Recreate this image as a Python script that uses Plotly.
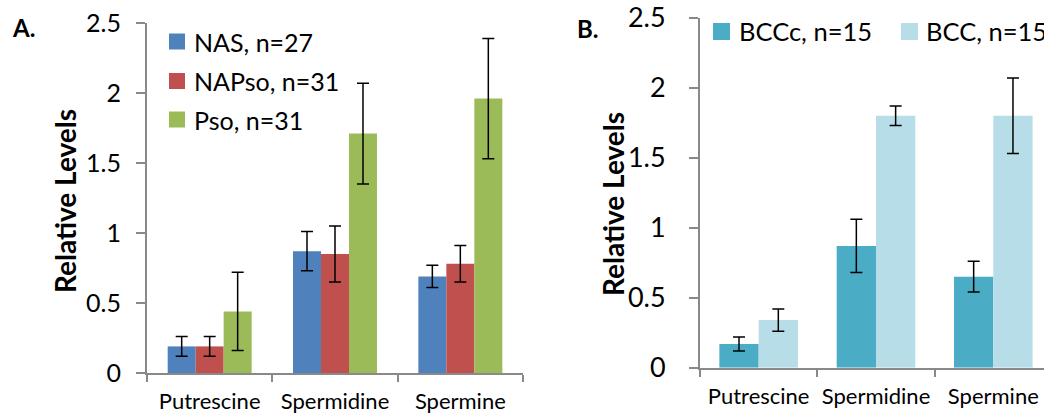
import plotly.graph_objects as go

W, H = 1044, 417

categories = ["Putrescine", "Spermidine", "Spermine"]

# Panel A
nas_vals = [0.19, 0.87, 0.69]
nas_err = [0.07, 0.14, 0.08]
napso_vals = [0.19, 0.85, 0.78]
napso_err = [0.07, 0.20, 0.13]
pso_vals = [0.44, 1.71, 1.96]
pso_err = [0.28, 0.36, 0.43]

# Panel B
bccc_vals = [0.17, 0.87, 0.65]
bccc_err = [0.05, 0.19, 0.11]
bcc_vals = [0.34, 1.80, 1.80]
bcc_err = [0.08, 0.07, 0.27]

y_ticks = [0, 0.5, 1, 1.5, 2, 2.5]
y_ticktext = ["0", "0.5", "1", "1.5", "2", "2.5"]

legend_a = ["NAS, n=27", "NAPso, n=31", "Pso, n=31"]
legend_b = ["BCCc, n=15", "BCC, n=15"]

col_a = ["#4F81BD", "#C0504D", "#9BBB59"]
col_b = ["#4BACC6", "#B7DEE8"]

FONT = "Lato"
GRAY = "#898989"


def px(x):
    return x / W


def py(y):
    return 1 - y / H


fig = go.Figure()

for vals, errs, c, name in zip([nas_vals, napso_vals, pso_vals], [nas_err, napso_err, pso_err], col_a, legend_a):
    fig.add_trace(go.Bar(x=categories, y=vals, name=name, marker=dict(color=c, line=dict(width=0)),
                         error_y=dict(type="data", array=errs, color="black", thickness=1.5, width=6),
                         xaxis="x", yaxis="y", offsetgroup=name, showlegend=False, hoverinfo="skip"))

for vals, errs, c, name in zip([bccc_vals, bcc_vals], [bccc_err, bcc_err], col_b, legend_b):
    fig.add_trace(go.Bar(x=categories, y=vals, name=name, marker=dict(color=c, line=dict(width=0)),
                         error_y=dict(type="data", array=errs, color="black", thickness=1.5, width=6),
                         xaxis="x2", yaxis="y2", offsetgroup=name, showlegend=False, hoverinfo="skip"))

xcommon = dict(type="category", showline=True, linecolor=GRAY, linewidth=2, ticks="outside",
               tickson="boundaries", ticklen=7, tickwidth=2, tickcolor=GRAY, showgrid=False,
               zeroline=False, automargin=False, ticklabelstandoff=8, tickangle=0,
               tickfont=dict(family=FONT, size=22, color="black"))
ycommon = dict(range=[0, 2.5], tickvals=y_ticks, ticktext=y_ticktext, showline=True, linecolor=GRAY,
               linewidth=2, ticks="outside", ticklen=9, tickwidth=2, tickcolor=GRAY, showgrid=False,
               zeroline=False, automargin=False)

fig.update_layout(
    width=W, height=H, margin=dict(l=0, r=0, t=0, b=0),
    plot_bgcolor="white", paper_bgcolor="white",
    barmode="group", bargap=0.33, bargroupgap=0,
    xaxis=dict(domain=[px(147), px(523)], range=[-0.5, 2.5], anchor="y", **xcommon),
    yaxis=dict(domain=[py(373), py(23)], anchor="x", ticklabelstandoff=10,
               tickfont=dict(family=FONT, size=25, color="black"), **ycommon),
    xaxis2=dict(domain=[px(700), 1.0], range=[-0.5, 2.432], anchor="y2", **xcommon),
    yaxis2=dict(domain=[py(367.7), py(17.7)], anchor="x2", ticklabelstandoff=18,
                tickfont=dict(family=FONT, size=27, color="black"), **ycommon),
)

annotations = []
shapes = []

# panel labels
annotations.append(dict(x=px(23), y=py(27), xref="paper", yref="paper", text="<b>A.</b>", showarrow=False,
                        font=dict(family=FONT, size=24, color="black"), xanchor="center", yanchor="middle"))
annotations.append(dict(x=px(588), y=py(28), xref="paper", yref="paper", text="<b>B.</b>", showarrow=False,
                        font=dict(family=FONT, size=24, color="black"), xanchor="center", yanchor="middle"))
# y titles
annotations.append(dict(x=px(65), y=py(201), xref="paper", yref="paper", text="<b>Relative Levels</b>",
                        showarrow=False, textangle=-90, font=dict(family=FONT, size=28, color="black"),
                        xanchor="center", yanchor="middle"))
annotations.append(dict(x=px(613), y=py(204), xref="paper", yref="paper", text="<b>Relative Levels</b>",
                        showarrow=False, textangle=-90, font=dict(family=FONT, size=28, color="black"),
                        xanchor="center", yanchor="middle"))

# legend A
rows_a = [41.5, 81, 119.5]
for name, c, yc in zip(legend_a, col_a, rows_a):
    shapes.append(dict(type="rect", xref="paper", yref="paper", x0=px(169), x1=px(185), y0=py(yc - 8), y1=py(yc + 8),
                       fillcolor=c, line=dict(width=0)))
    annotations.append(dict(x=px(192), y=py(yc), xref="paper", yref="paper", text=name, showarrow=False,
                            font=dict(family=FONT, size=25, color="black"), xanchor="left", yanchor="middle"))

# legend B
cols_b_x = [(713, 737), (901, 924)]
for name, c, (sx, tx) in zip(legend_b, col_b, cols_b_x):
    shapes.append(dict(type="rect", xref="paper", yref="paper", x0=px(sx), x1=px(sx + 17), y0=py(40), y1=py(23),
                       fillcolor=c, line=dict(width=0)))
    annotations.append(dict(x=px(tx), y=py(31.5), xref="paper", yref="paper", text=name, showarrow=False,
                            font=dict(family=FONT, size=25.5, color="black"), xanchor="left", yanchor="middle"))

fig.update_layout(annotations=annotations, shapes=shapes)

fig.write_html("out.html", config={"displayModeBar": False},
               post_script="document.body.style.margin='0px';document.body.style.overflow='hidden';")
